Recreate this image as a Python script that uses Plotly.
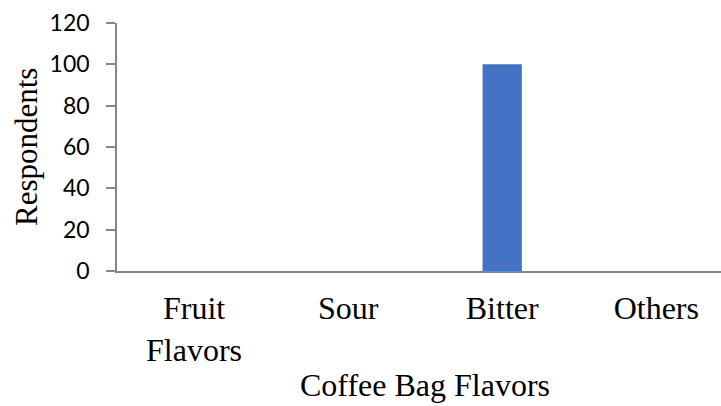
import plotly.graph_objects as go

# Survey results: preferred coffee bag flavour
categories = ["Fruit<br>Flavors", "Sour", "Bitter", "Others"]
respondents = [0, 0, 100, 0]
y_ticks = [0, 20, 40, 60, 80, 100, 120]

serif = "Liberation Serif, Times New Roman, serif"
sans = "Lato, Calibri, sans-serif"
axis_grey = "#868686"

fig = go.Figure(
    go.Bar(
        x=list(range(len(categories))),
        y=respondents,
        width=0.255,
        marker=dict(color="#4472C4", line=dict(width=0)),
        hoverinfo="skip",
    )
)

fig.update_layout(
    width=721,
    height=406,
    margin=dict(l=117, r=0, t=23, b=135),
    paper_bgcolor="white",
    plot_bgcolor="white",
    showlegend=False,
    xaxis=dict(
        range=[-0.5, 3.42],
        tickmode="array",
        tickvals=list(range(len(categories))),
        ticktext=categories,
        tickfont=dict(family=serif, size=32, color="black"),
        showline=True,
        linecolor=axis_grey,
        linewidth=1.5,
        ticks="",
        showgrid=False,
        zeroline=False,
        ticklabelstandoff=8,
    ),
    yaxis=dict(
        range=[0, 120],
        tickmode="array",
        tickvals=y_ticks,
        ticktext=[str(v) for v in y_ticks],
        tickfont=dict(family=sans, size=23, color="black"),
        showline=True,
        linecolor=axis_grey,
        linewidth=1.5,
        ticks="outside",
        ticklen=9,
        tickwidth=1.5,
        tickcolor=axis_grey,
        showgrid=False,
        zeroline=False,
        ticklabelstandoff=12,
    ),
    annotations=[
        dict(
            text="Coffee Bag Flavors",
            xref="x",
            yref="paper",
            x=1.5,
            y=0,
            yshift=-114,
            xanchor="center",
            yanchor="middle",
            showarrow=False,
            font=dict(family=serif, size=32, color="black"),
        ),
        dict(
            text="Respondents",
            xref="paper",
            yref="paper",
            x=0,
            y=0.5,
            xshift=-91,
            xanchor="center",
            yanchor="middle",
            textangle=-90,
            showarrow=False,
            font=dict(family=serif, size=31, color="black"),
        ),
    ],
)

fig.write_html("out.html")
